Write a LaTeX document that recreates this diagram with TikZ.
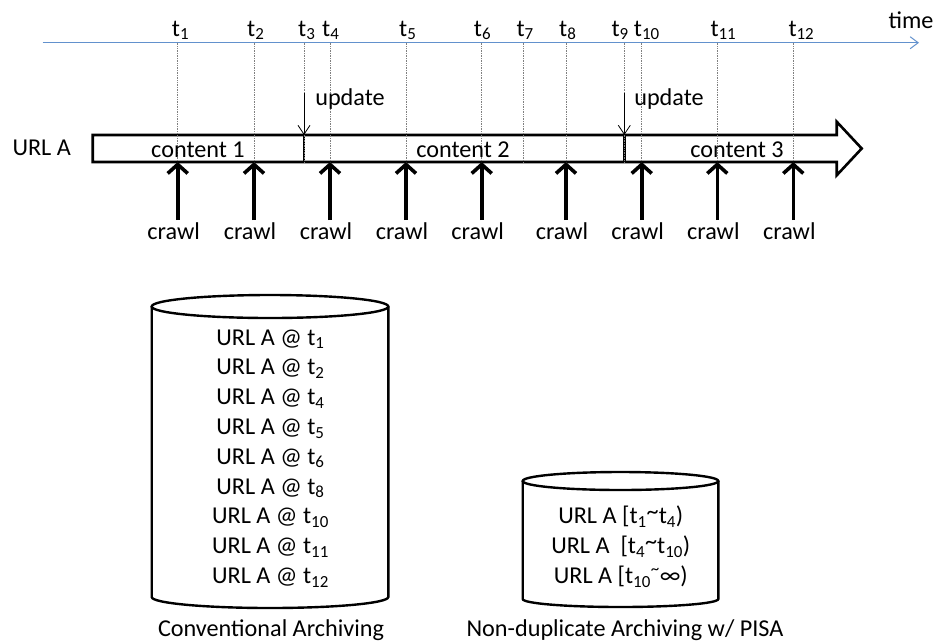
\documentclass[tikz,border=0pt]{standalone}
\usepackage{fontspec}
\setmainfont{Carlito}
\usetikzlibrary{arrows.meta}
\definecolor{axisblue}{RGB}{98,145,205}
\newcommand{\tld}{\raisebox{0.3ex}{\textasciitilde}}
\begin{document}
\begin{tikzpicture}[x=1pt,y=-1pt,
  lbl/.style={font=\fontsize{24.2}{29}\selectfont, inner sep=0pt, anchor=base},
  tlbl/.style={font=\fontsize{24.2}{29}\selectfont, inner sep=0pt, anchor=base west},
  tickline/.style={densely dotted, gray, line width=0.7pt},
  crawlarrow/.style={line width=3.6pt, -{Straight Barb[length=9pt,width=20pt]}},
  updarrow/.style={line width=0.8pt, -{Straight Barb[length=9pt,width=12pt]}},
  axisline/.style={axisblue, line width=1pt, -{Straight Barb[length=8pt,width=12pt]}},
  barline/.style={line width=2.6pt, line join=miter},
  cyl/.style={line width=2.4pt}]
\useasboundingbox (0,0) rectangle (937,641);
% time axis
\coordinate (ax0) at (42.7,42.7);
\coordinate (ax1) at (919,42.7);
\draw[axisline] (ax0) -- (ax1);
\node[lbl] (time) at (911,28) {time};
% big arrow bar
\draw[barline] (92.7,135) -- (836.7,135) -- (836.7,121.7) -- (861.7,148.5) -- (836.7,175.3) -- (836.7,162) -- (92.7,162) -- cycle;
\draw[barline] (304,135) -- (304,162);
\draw[barline] (624.3,135) -- (624.3,162);
% ticks
\foreach \i/\x/\o in {1/177.7/6,2/254/7,3/304/6,4/330/8,5/406/7,6/481.7/8,7/523.3/7,8/566/7,9/624.3/13,10/641.7/8,11/717.3/7,12/793.3/5}{
  \node[tlbl] (t\i) at (\x-\o,36) {t\textsubscript{\i}};
  \coordinate (a\i) at (\x,42.7);
  \coordinate (b\i) at (\x,162);
  \draw[tickline] (a\i) -- (b\i);
}
% labels on bar
\node[lbl] (urla) at (41.7,155) {URL A};
\node[lbl] (c1) at (198,157) {content 1};
\node[lbl] (c2) at (463,157) {content 2};
\node[lbl] (c3) at (737,157) {content 3};
% updates
\node[lbl] (u1) at (350,105) {update};
\node[lbl] (u2) at (669,105) {update};
\coordinate (us1) at (304,93);
\coordinate (ue1) at (304,135);
\coordinate (us2) at (624.3,93);
\coordinate (ue2) at (624.3,135);
\draw[updarrow] (us1) -- (ue1);
\draw[updarrow] (us2) -- (ue2);
% crawls
\foreach \i in {1,2,4,5,6,8,10,11,12}{
  \path (b\i) ++(0,58) coordinate (cs\i);
  \draw[crawlarrow] (cs\i) -- (b\i);
  \path (b\i) ++(-4,77) node[lbl] (cr\i) {crawl};
}
% conventional archive cylinder
\draw[cyl] (151.7,306.5) -- (151.7,597) arc[start angle=180,end angle=360,x radius=118.3pt,y radius=11pt] -- (388.3,306.5);
\draw[cyl] (270,306.5) ellipse [x radius=118.3pt, y radius=11.5pt];
\node[lbl] (r1) at (270.5,345) {URL A @ t\textsubscript{1}};
\node[lbl] (r2) at (270.5,374.8) {URL A @ t\textsubscript{2}};
\node[lbl] (r3) at (270.5,404.6) {URL A @ t\textsubscript{4}};
\node[lbl] (r4) at (270.5,434.4) {URL A @ t\textsubscript{5}};
\node[lbl] (r5) at (270.5,464.2) {URL A @ t\textsubscript{6}};
\node[lbl] (r6) at (270.5,494) {URL A @ t\textsubscript{8}};
\node[lbl] (r7) at (270.5,523.8) {URL A @ t\textsubscript{10}};
\node[lbl] (r8) at (270.5,553.6) {URL A @ t\textsubscript{11}};
\node[lbl] (r9) at (270.5,583.4) {URL A @ t\textsubscript{12}};
\node[lbl] (conv) at (271,636) {Conventional Archiving};
% PISA cylinder
\draw[cyl] (522.7,481) -- (522.7,599) arc[start angle=180,end angle=360,x radius=97.8pt,y radius=8pt] -- (718.3,481);
\draw[cyl] (620.5,481) ellipse [x radius=97.8pt, y radius=9pt];
\node[lbl] (p1) at (620.8,523.3) {URL A [t\textsubscript{1}\tld t\textsubscript{4})};
\node[lbl] (p2) at (620.8,553.3) {URL A \ [t\textsubscript{4}\tld t\textsubscript{10})};
\node[lbl] (p3) at (620.8,583.3) {URL A [t\textsubscript{10}\textsuperscript{\textasciitilde}∞)};
\node[lbl] (pisa) at (625,636) {Non-duplicate Archiving w/ PISA};
\end{tikzpicture}
\end{document}
